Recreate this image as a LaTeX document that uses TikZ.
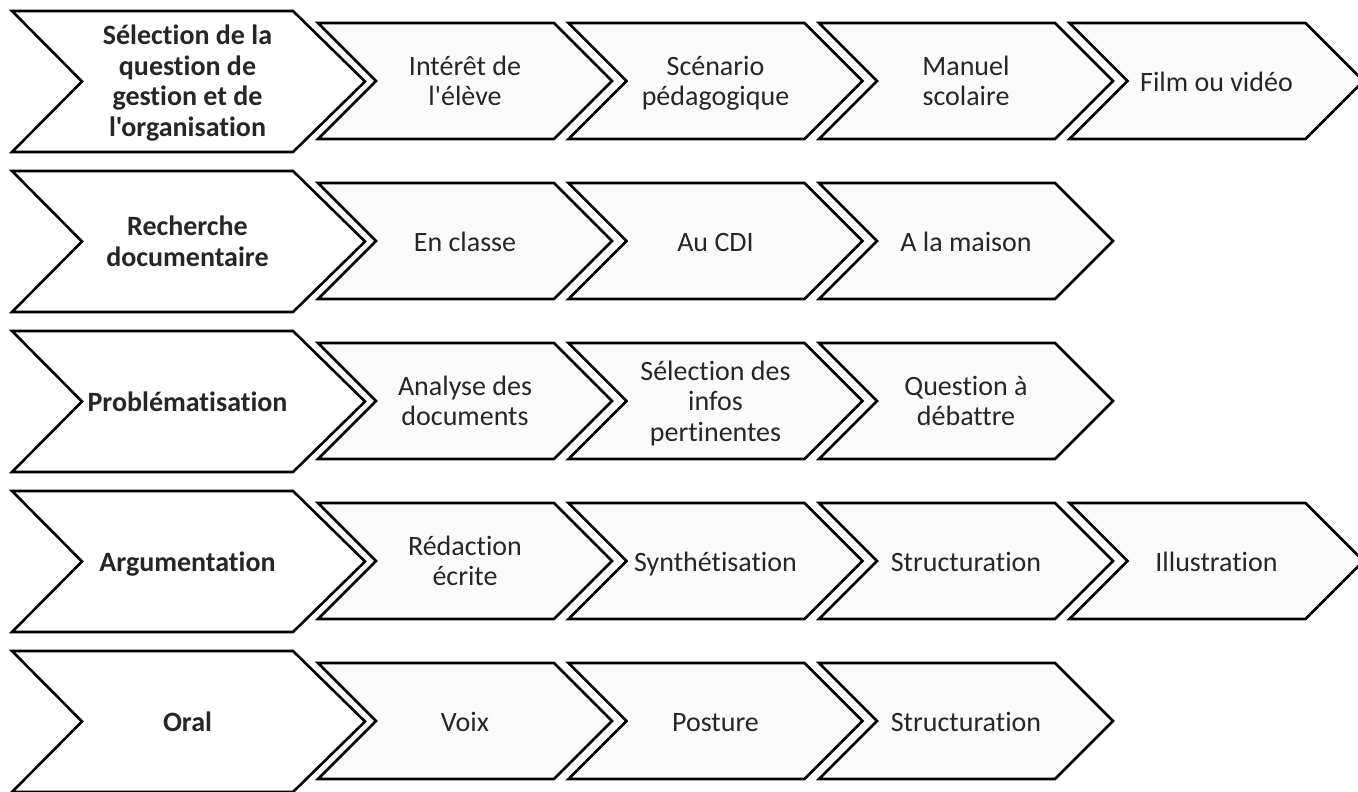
\documentclass[tikz,border=0pt]{standalone}
\usepackage{fontspec}
\setmainfont{Carlito}[Ligatures={TeXOff,CommonOff}]
\definecolor{txt}{HTML}{262626}
\definecolor{subfill}{HTML}{FAFAFA}
\tikzset{
  mainchev/.style={draw=black, line width=2.6pt, fill=white, line join=miter},
  subchev/.style={draw=black, line width=2.6pt, fill=subfill, line join=miter},
  maintext/.style={text=txt, align=center, inner sep=0pt, yshift=-4pt, font=\fontsize{28}{30.5}\selectfont\bfseries,
    execute at begin node=\strut, execute at end node=\strut},
  subtext/.style={text=txt, align=center, inner sep=0pt, yshift=-4pt, font=\fontsize{28}{30.5}\selectfont,
    execute at begin node=\strut, execute at end node=\strut},
}
\newcommand\mychevmain[1]{%
  \draw[mainchev] (12,#1) -- ++(281,0) -- ++(72,70.5) -- ++(-72,70.5) -- ++(-281,0) -- ++(70,-70.5) -- cycle;}
\newcommand\mychevsub[2]{%
  \draw[subchev] (#1,#2+12) -- ++(236,0) -- ++(58,58) -- ++(-58,58) -- ++(-236,0) -- ++(58,-58) -- cycle;}
\begin{document}
\begin{tikzpicture}[x=1pt,y=-1pt]
\useasboundingbox (0,0) rectangle (1358,792);
% Row 1
\mychevsub{1069.5}{11}\mychevsub{819}{11}\mychevsub{568.5}{11}\mychevsub{318}{11}
\mychevmain{11}
\node[maintext] (m1) at (187.5,81.5) {Sélection de la\\question de\\gestion et de\\l'organisation};
\node[subtext] (s11) at (465,81.5) {Intérêt de\\l'élève};
\node[subtext] (s12) at (715.5,81.5) {Scénario\\pédagogique};
\node[subtext] (s13) at (966,81.5) {Manuel\\scolaire};
\node[subtext] (s14) at (1216.5,81.5) {Film ou vidéo};
% Row 2
\mychevsub{819}{171}\mychevsub{568.5}{171}\mychevsub{318}{171}
\mychevmain{171}
\node[maintext] (m2) at (187.5,241.5) {Recherche\\documentaire};
\node[subtext] (s21) at (465,241.5) {En classe};
\node[subtext] (s22) at (715.5,241.5) {Au CDI};
\node[subtext] (s23) at (966,241.5) {A la maison};
% Row 3
\mychevsub{819}{331}\mychevsub{568.5}{331}\mychevsub{318}{331}
\mychevmain{331}
\node[maintext] (m3) at (187.5,401.5) {Problématisation};
\node[subtext] (s31) at (465,401.5) {Analyse des\\documents};
\node[subtext] (s32) at (715.5,401.5) {Sélection des\\infos\\pertinentes};
\node[subtext] (s33) at (966,401.5) {Question à\\débattre};
% Row 4
\mychevsub{1069.5}{491}\mychevsub{819}{491}\mychevsub{568.5}{491}\mychevsub{318}{491}
\mychevmain{491}
\node[maintext] (m4) at (187.5,561.5) {Argumentation};
\node[subtext] (s41) at (465,561.5) {Rédaction\\écrite};
\node[subtext] (s42) at (715.5,561.5) {Synthétisation};
\node[subtext] (s43) at (966,561.5) {Structuration};
\node[subtext] (s44) at (1216.5,561.5) {Illustration};
% Row 5
\mychevsub{819}{651}\mychevsub{568.5}{651}\mychevsub{318}{651}
\mychevmain{651}
\node[maintext] (m5) at (187.5,721.5) {Oral};
\node[subtext] (s51) at (465,721.5) {Voix};
\node[subtext] (s52) at (715.5,721.5) {Posture};
\node[subtext] (s53) at (966,721.5) {Structuration};
\end{tikzpicture}
\end{document}
